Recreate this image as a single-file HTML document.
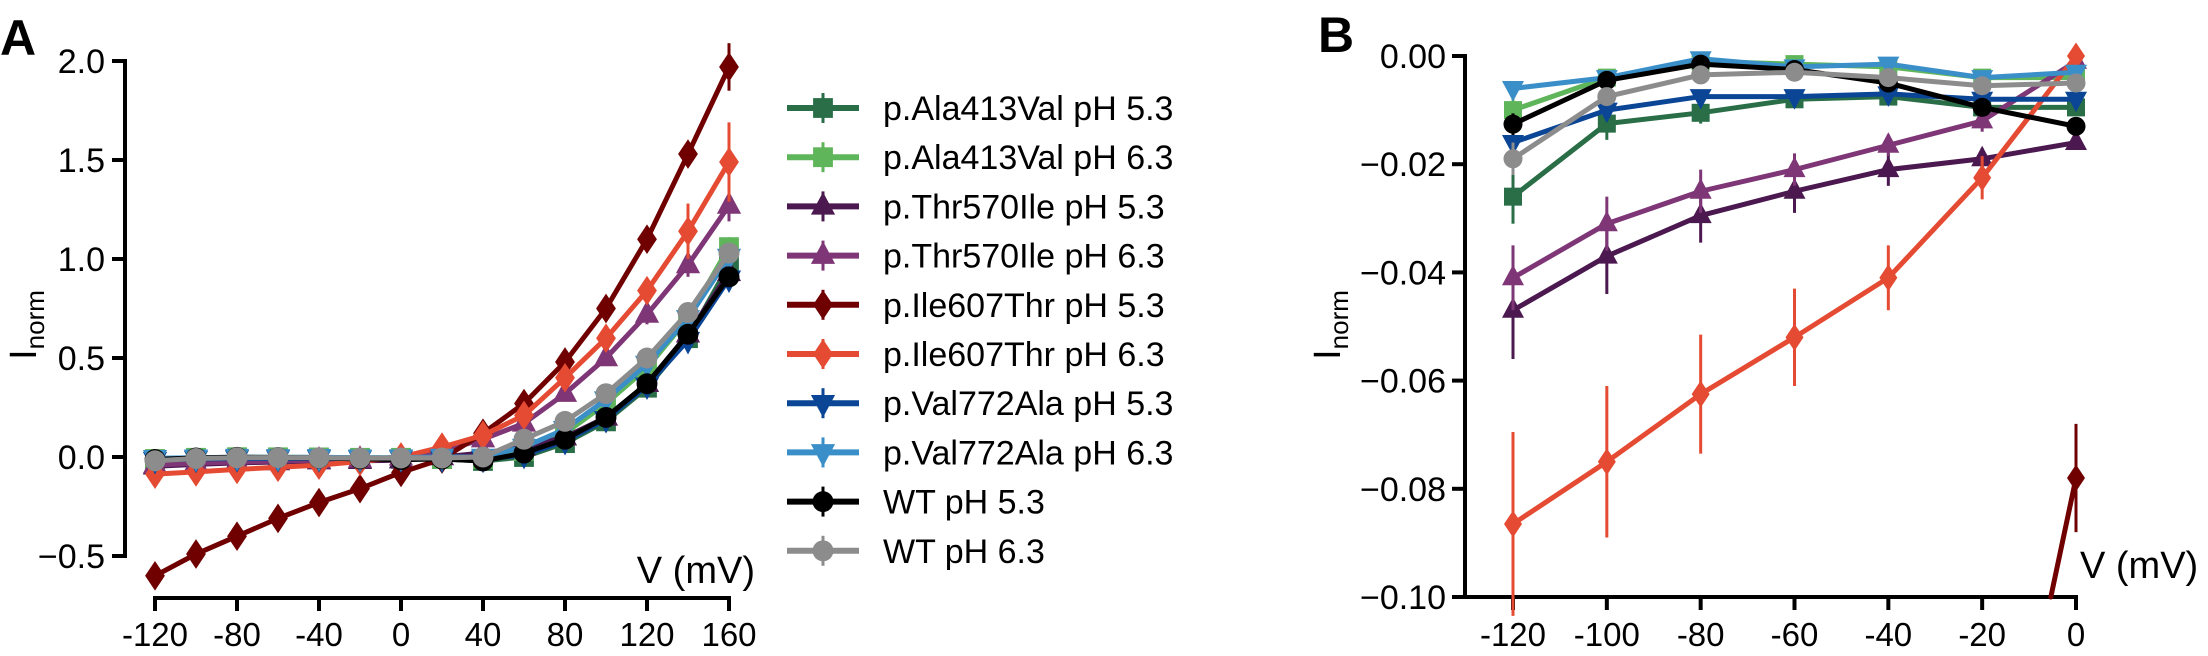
<!DOCTYPE html>
<html><head><meta charset="utf-8"><style>
html,body{margin:0;padding:0;background:#fff;width:2208px;height:656px;overflow:hidden;}
svg{display:block;font-family:"Liberation Sans",Arial,sans-serif;overflow:hidden;}
</style></head><body>
<svg id="fig" width="2208" height="656" viewBox="0 0 2208 656" xmlns="http://www.w3.org/2000/svg">
<g id="panelA"></g>
<g id="panelB"></g>
<g id="legend"></g>
</svg>
<script>
const voltages = [-120,-100,-80,-60,-40,-20,0,20,40,60,80,100,120,140,160];
const seriesNames = ["p.Ala413Val pH 5.3","p.Ala413Val pH 6.3","p.Thr570Ile pH 5.3","p.Thr570Ile pH 6.3","p.Ile607Thr pH 5.3","p.Ile607Thr pH 6.3","p.Val772Ala pH 5.3","p.Val772Ala pH 6.3","WT pH 5.3","WT pH 6.3"];
const ala53 = [-0.026,-0.0125,-0.0105,-0.008,-0.0075,-0.0095,-0.0095,-0.01,-0.02,0.0,0.07,0.18,0.35,0.60,0.97];
const ala63 = [-0.010,-0.004,-0.001,-0.0015,-0.002,-0.004,-0.004,-0.01,-0.01,0.03,0.12,0.27,0.45,0.70,1.06];
const thr53 = [-0.047,-0.037,-0.0295,-0.025,-0.021,-0.019,-0.016,0.0,0.02,0.05,0.10,0.20,0.37,0.62,0.93];
const thr63 = [-0.041,-0.031,-0.025,-0.021,-0.0165,-0.012,-0.001,0.03,0.09,0.17,0.32,0.50,0.72,0.97,1.27];
const ile53 = [-0.60,-0.49,-0.40,-0.31,-0.23,-0.16,-0.078,-0.01,0.12,0.27,0.48,0.75,1.10,1.53,1.97];
const ile63 = [-0.0865,-0.075,-0.0625,-0.052,-0.041,-0.0225,0.0,0.05,0.11,0.21,0.40,0.60,0.84,1.14,1.49];
const val53 = [-0.016,-0.010,-0.0075,-0.0075,-0.007,-0.008,-0.008,-0.01,-0.01,0.01,0.08,0.19,0.36,0.59,0.90];
const val63 = [-0.006,-0.004,-0.0005,-0.002,-0.0015,-0.004,-0.003,0.0,0.0,0.05,0.14,0.29,0.47,0.70,1.01];
const wt53 = [-0.0126,-0.0045,-0.0015,-0.0025,-0.005,-0.0095,-0.013,-0.01,-0.02,0.02,0.09,0.20,0.37,0.62,0.91];
const wt63 = [-0.019,-0.0075,-0.0035,-0.003,-0.004,-0.0055,-0.005,-0.005,0.0,0.09,0.18,0.32,0.50,0.73,1.03];
const ala53Err = [0.005,0.003,0.002,0.001,0.001,0.001,0.001,0.01,0.01,0.01,0.01,0.02,0.02,0.03,0.04];
const ala63Err = [0.002,0.001,0.001,0.001,0.001,0.001,0.001,0.01,0.01,0.01,0.01,0.02,0.02,0.03,0.05];
const thr53Err = [0.009,0.007,0.005,0.004,0.003,0.002,0.001,0.01,0.01,0.02,0.02,0.03,0.04,0.05,0.06];
const thr63Err = [0.006,0.005,0.004,0.003,0.002,0.002,0.001,0.01,0.01,0.02,0.03,0.04,0.05,0.06,0.08];
const ile53Err = [0.03,0.03,0.02,0.02,0.02,0.01,0.010,0.01,0.02,0.02,0.03,0.04,0.05,0.06,0.12];
const ile63Err = [0.017,0.014,0.011,0.009,0.006,0.004,0.002,0.01,0.02,0.03,0.04,0.05,0.06,0.14,0.20];
const val53Err = [0.002,0.001,0.001,0.001,0.001,0.001,0.001,0.01,0.01,0.01,0.01,0.02,0.02,0.02,0.03];
const val63Err = [0.001,0.001,0.001,0.001,0.001,0.001,0.001,0.01,0.01,0.01,0.01,0.02,0.02,0.02,0.03];
const wt53Err = [0.002,0.001,0.001,0.001,0.001,0.001,0.001,0.01,0.01,0.01,0.01,0.01,0.02,0.02,0.03];
const wt63Err = [0.003,0.001,0.001,0.001,0.001,0.001,0.001,0.01,0.01,0.01,0.01,0.02,0.02,0.03,0.03];
const aYTicks = [2.0,1.5,1.0,0.5,0.0,-0.5];
const aYTickLabels = ["2.0","1.5","1.0","0.5","0.0","\u22120.5"];
const aXTicks = [-120,-80,-40,0,40,80,120,160];
const bYTicks = [0,-0.02,-0.04,-0.06,-0.08,-0.10];
const bYTickLabels = ["0.00","\u22120.02","\u22120.04","\u22120.06","\u22120.08","\u22120.10"];
const bXTicks = [-120,-100,-80,-60,-40,-20,0];

const allSeries = [ala53,ala63,thr53,thr63,ile53,ile63,val53,val63,wt53,wt63];
const allErr = [ala53Err,ala63Err,thr53Err,thr63Err,ile53Err,ile63Err,val53Err,val63Err,wt53Err,wt63Err];
const colors = ["#2a6e48","#5fb55a","#4b1850","#7e3676","#700000","#e54b33","#0a4596","#3a8fc8","#000000","#8c8c8c"];
const markers = ["square","square","up","up","diamond","diamond","down","down","circle","circle"];
const keys = ["ala413val-ph53","ala413val-ph63","thr570ile-ph53","thr570ile-ph63","ile607thr-ph53","ile607thr-ph63","val772ala-ph53","val772ala-ph63","wt-ph53","wt-ph63"];

const NS = "http://www.w3.org/2000/svg";
function mk(tag, attrs, parent){const e=document.createElementNS(NS,tag);for(const k in attrs)e.setAttribute(k,attrs[k]);parent.appendChild(e);return e;}

const xA = v => 401 + (v)*2.05;
const yA = v => 457 - v*198;
const xB = v => 2076 + v*(563/120);
const yB = v => 56 - v*5410;
const B_BOTTOM = 597;

function marker(g, type, x, y, col, r){
  let e;
  if(type==="square") e=mk("rect",{x:x-r*0.9,y:y-r*0.9,width:r*1.8,height:r*1.8,fill:col},g);
  else if(type==="circle") e=mk("circle",{cx:x,cy:y,r:r*0.95,fill:col},g);
  else if(type==="diamond") e=mk("polygon",{points:`${x},${y-r*1.35} ${x+r*0.9},${y} ${x},${y+r*1.35} ${x-r*0.9},${y}`,fill:col},g);
  else if(type==="up") e=mk("polygon",{points:`${x},${y-r*1.3} ${x+r*1.1},${y+r*0.75} ${x-r*1.1},${y+r*0.75}`,fill:col},g);
  else e=mk("polygon",{points:`${x},${y+r*1.3} ${x+r*1.1},${y-r*0.75} ${x-r*1.1},${y-r*0.75}`,fill:col},g);
  
  
}

function clipSegments(pts, maxY){
  const out=[];
  for(let i=0;i<pts.length-1;i++){
    let [x1,y1]=pts[i],[x2,y2]=pts[i+1];
    if(y1>maxY && y2>maxY) continue;
    if(y1>maxY){x1=x1+(x2-x1)*(maxY-y1)/(y2-y1); y1=maxY;}
    if(y2>maxY){x2=x1+(x2-x1)*(maxY-y1)/(y2-y1); y2=maxY;}
    out.push([x1,y1,x2,y2]);
  }
  return out;
}

function drawSeries(panel, xf, yf, n, clip, r){
  for(let s=0;s<allSeries.length;s++){
    const g=mk("g",{},panel);
    
    
    const vals=allSeries[s].slice(0,n), errs=allErr[s].slice(0,n);
    for(let i=0;i<n;i++){
      if(clip && yf(vals[i])>600) continue;
      const eb=mk("line",{x1:xf(voltages[i]),x2:xf(voltages[i]),y1:yf(vals[i]+errs[i]),y2:Math.min(yf(vals[i]-errs[i]),640),stroke:colors[s],"stroke-width":3},g);
      
      
    }
    const raw=vals.map((v,i)=>[xf(voltages[i]),yf(v)]);
    if(clip){
      const segs=clipSegments(raw,B_BOTTOM);
      const d=segs.map(sg=>`M${sg[0]},${sg[1]}L${sg[2]},${sg[3]}`).join("");
      const line=mk("path",{d:d||"M0,0",fill:"none",stroke:colors[s],"stroke-width":5,"stroke-linejoin":"round","stroke-linecap":"round"},g);
      
      
    } else {
      const line=mk("polyline",{points:raw.map(p=>p.join(",")).join(" "),fill:"none",stroke:colors[s],"stroke-width":5,"stroke-linejoin":"round"},g);
      
      
    }
    for(let i=0;i<n;i++){
      const y=yf(vals[i]);
      if(clip && y>600) continue;
      marker(g,markers[s],xf(voltages[i]),y,colors[s],r);
    }
  }
}

function text(parent, x, y, str, size, anchor, name, extra){
  const t=mk("text",Object.assign({x:x,y:y,"font-size":size,"text-anchor":anchor,fill:"#000"},extra||{}),parent);
  t.textContent=str;
  
  
  return t;
}

// Panel A
const A=document.getElementById("panelA");
text(A,0,55,"A",50,"start","panel-a-label",{"font-weight":"bold"});
let ax=mk("line",{x1:125,x2:125,y1:yA(2.0)-2,y2:yA(-0.5)+2,stroke:"#000","stroke-width":4},A);

aYTicks.forEach((v,i)=>{
  const t=mk("line",{x1:112,x2:125,y1:yA(v),y2:yA(v),stroke:"#000","stroke-width":4},A);
  
  text(A,105,yA(v)+12,aYTickLabels[i],34,"end","a-y-tick-label");
});
ax=mk("line",{x1:xA(-120)-2,x2:xA(160)+2,y1:598,y2:598,stroke:"#000","stroke-width":4},A);

aXTicks.forEach(v=>{
  const t=mk("line",{x1:xA(v),x2:xA(v),y1:598,y2:611,stroke:"#000","stroke-width":4},A);
  
  text(A,xA(v),646,String(v),33,"middle","a-x-tick-label");
});
text(A,755,583,"V (mV)",38,"end","a-x-axis-title");
let yl=text(A,0,0,"I",38,"middle","a-y-axis-title",{transform:"translate(36,325) rotate(-90)"});
const sub=mk("tspan",{"font-size":26,dy:8},yl); sub.textContent="norm";
drawSeries(A,xA,yA,15,false,11);

// Panel B
const B=document.getElementById("panelB");
text(B,1318,52,"B",50,"start","panel-b-label",{"font-weight":"bold"});
ax=mk("line",{x1:1465,x2:1465,y1:54,y2:599,stroke:"#000","stroke-width":4},B);

bYTicks.forEach((v,i)=>{
  const t=mk("line",{x1:1452,x2:1465,y1:yB(v),y2:yB(v),stroke:"#000","stroke-width":4},B);
  
  text(B,1446,yB(v)+12,bYTickLabels[i],34,"end","b-y-tick-label");
});
ax=mk("line",{x1:1463,x2:xB(0)+2,y1:597,y2:597,stroke:"#000","stroke-width":4},B);

bXTicks.forEach(v=>{
  const t=mk("line",{x1:xB(v),x2:xB(v),y1:597,y2:610,stroke:"#000","stroke-width":4},B);
  
  text(B,xB(v),646,String(v),33,"middle","b-x-tick-label");
});
text(B,2080,578,"V (mV)",38,"start","b-x-axis-title");
yl=text(B,0,0,"I",38,"middle","b-y-axis-title",{transform:"translate(1340,325) rotate(-90)"});
const sub2=mk("tspan",{"font-size":26,dy:8},yl); sub2.textContent="norm";
drawSeries(B,xB,yB,7,true,10);

// Legend
const L=document.getElementById("legend");
seriesNames.forEach((nm,s)=>{
  const y=108+s*49.2;
  const g=mk("g",{},L);
  
  
  mk("line",{x1:787,x2:859,y1:y,y2:y,stroke:colors[s],"stroke-width":6},g);
  mk("line",{x1:823,x2:823,y1:y-15,y2:y+15,stroke:colors[s],"stroke-width":3},g);
  marker(g,markers[s],823,y,colors[s],11);
  text(g,883,y+12,nm,34,"start","legend-label");
});
</script>
</body></html>
